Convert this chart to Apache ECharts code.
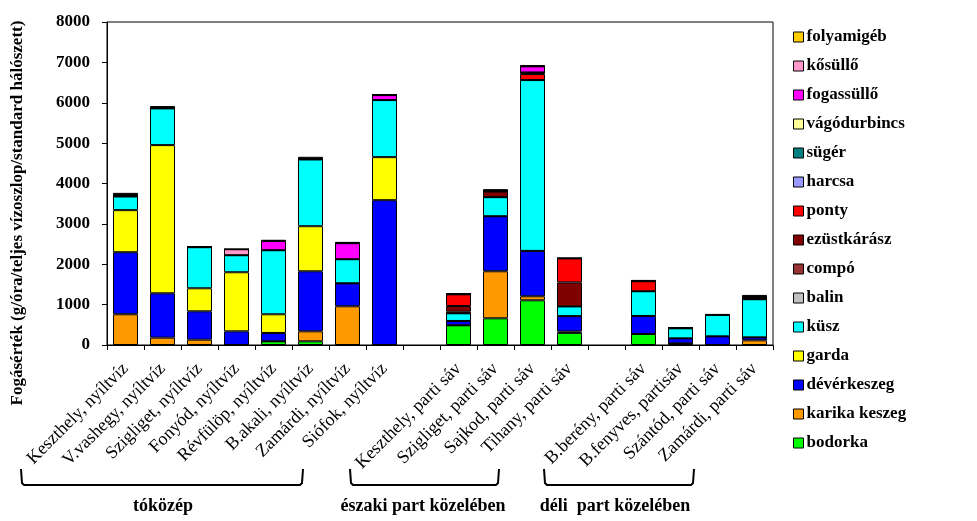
<!DOCTYPE html>
<html><head><meta charset="utf-8">
<script src="https://cdn.jsdelivr.net/npm/echarts@6/dist/echarts.min.js"></script>
<style>html,body{margin:0;padding:0;background:#fff}#c{width:977px;height:521px}</style>
</head><body><div id="c"></div>
<script>
const categories = ["Keszthely, nyíltvíz","V.vashegy, nyíltvíz","Szigliget, nyíltvíz","Fonyód, nyíltvíz","Révfülöp, nyíltvíz","B.akali, nyíltvíz","Zamárdi, nyíltvíz","Siófok, nyíltvíz","","Keszthely, parti sáv","Szigliget, parti sáv","Sajkod, parti sáv","Tihany, parti sáv","","B.berény, parti sáv","B.fenyves, partisáv","Szántód, parti sáv","Zamárdi, parti sáv"];
const bodorka      = [0,0,0,0,91,91,0,0,null,488,661,1107,300,null,273,41,0,0];
const karikaKeszeg = [761,182,132,0,0,248,959,0,null,0,1165,100,35,null,0,0,0,116];
const devierkeszeg = [1537,1099,703,339,207,1487,570,3587,null,107,1364,1124,380,null,446,124,215,74];
const garda        = [1042,3670,570,1463,463,1116,0,1066,null,0,0,0,0,null,0,0,0,0];
const kusz         = [338,909,1017,421,1586,1653,595,1413,null,190,471,4231,240,null,612,248,529,943];
const balin        = [0,0,0,0,0,0,0,0,null,0,0,0,0,null,0,0,0,0];
const compo        = [0,0,0,0,0,0,0,0,null,40,0,0,0,null,0,0,0,0];
const ezustkarasz  = [0,0,0,0,0,0,0,0,null,140,141,0,595,null,0,0,0,0];
const ponty        = [0,0,0,0,0,0,0,0,null,289,0,149,595,null,248,0,0,0];
const harcsa       = [0,0,0,0,0,0,0,0,null,0,0,40,0,null,0,0,0,0];
const suger        = [0,0,0,0,0,0,0,0,null,0,0,0,0,null,0,0,0,0];
const vagodurbincs = [0,0,0,0,0,0,0,0,null,0,0,0,0,null,0,0,0,0];
const fogassullo   = [0,0,0,0,232,0,397,124,null,0,0,150,0,null,0,0,0,0];
const kosullo      = [0,0,0,149,0,0,0,0,null,0,0,0,0,null,0,0,0,0];
const folyamigeb   = [0,0,0,0,0,0,0,0,null,0,0,0,0,null,0,0,0,0];
const egyeb        = [90,58,24,0,24,66,33,25,null,33,58,33,0,null,33,33,25,107];
const yTicks = [0,1000,2000,3000,4000,5000,6000,7000,8000];

const seriesDefs = [
  ["bodorka", bodorka, "#00FF00"],
  ["karika keszeg", karikaKeszeg, "#FF9900"],
  ["dévérkeszeg", devierkeszeg, "#0000FF"],
  ["garda", garda, "#FFFF00"],
  ["küsz", kusz, "#00FFFF"],
  ["balin", balin, "#C0C0C0"],
  ["compó", compo, "#993333"],
  ["ezüstkárász", ezustkarasz, "#800000"],
  ["ponty", ponty, "#FF0000"],
  ["harcsa", harcsa, "#9999FF"],
  ["sügér", suger, "#008080"],
  ["vágódurbincs", vagodurbincs, "#FFFF99"],
  ["fogassüllő", fogassullo, "#FF00FF"],
  ["kősüllő", kosullo, "#FF99CC"],
  ["folyamigéb", folyamigeb, "#FFCC00"],
  ["egyéb", egyeb, "#000000"]
];
const FONT = '"Liberation Serif","Times New Roman",serif';
const chart = echarts.init(document.getElementById('c'), null, {renderer:'canvas'});
const series = seriesDefs.map(([n,d,c]) => ({
  name: n, type: 'bar', stack: 'a', data: d, barWidth: 25,
  itemStyle: {color: c, borderColor: '#000', borderWidth: 1},
  emphasis: {disabled: true}
}));
const legendNames = seriesDefs.slice(0,15).map(s => s[0]).reverse();
function bracket(x1,x2){
  return {type:'polyline', shape:{points:[[x1,469],[x1+1,483],[x1+3,485],[x2-3,485],[x2-1,483],[x2,469]]}, style:{stroke:'#000', lineWidth:2, fill:null}};
}
chart.setOption({
  animation: false,
  grid: {left: 107, top: 22, right: 204, bottom: 176, show: true, borderColor: '#000', borderWidth: 1},
  legend: {
    data: legendNames, orient: 'vertical', left: 793, top: 28, padding: 0,
    itemWidth: 10, itemHeight: 10, itemGap: 11, icon: 'rect',
    itemStyle: {borderColor: '#000', borderWidth: 1},
    textStyle: {fontFamily: FONT, fontWeight: 'bold', fontSize: 17, color: '#000', lineHeight: 18, padding: [0,0,0,-2]},
    selectedMode: false
  },
  xAxis: {
    type: 'category', data: categories,
    axisLine: {lineStyle: {color: '#000', width: 1}},
    axisTick: {show: true, length: 5, lineStyle: {color: '#000'}},
    axisLabel: {interval: 0, rotate: 45, fontFamily: FONT, fontSize: 18, color: '#000', margin: 21}
  },
  yAxis: {
    type: 'value', min: 0, max: 8000, interval: 1000,
    splitLine: {show: false},
    axisLine: {show: true, lineStyle: {color: '#000', width: 1}},
    axisTick: {show: true, length: 5, lineStyle: {color: '#000'}},
    axisLabel: {fontFamily: FONT, fontWeight: 'bold', fontSize: 17, color: '#000', margin: 17,
      formatter: v => yTicks.includes(v) ? String(v) : ''}
  },
  graphic: [
    {type:'text', x: 18, y: 213, rotation: Math.PI/2,
      style:{text:'Fogásérték (g/óra/teljes vízoszlop/standard hálószett)', font:'bold 17px '+FONT, fill:'#000', textAlign:'center', textVerticalAlign:'middle'}},
    bracket(21,303), bracket(350,499), bracket(544,694),
    {type:'text', x: 163, y: 506, style:{text:'tóközép', font:'bold 18px '+FONT, fill:'#000', textAlign:'center', textVerticalAlign:'middle'}},
    {type:'text', x: 423, y: 506, style:{text:'északi part közelében', font:'bold 18px '+FONT, fill:'#000', textAlign:'center', textVerticalAlign:'middle'}},
    {type:'text', x: 615, y: 506, style:{text:'déli  part közelében', font:'bold 18px '+FONT, fill:'#000', textAlign:'center', textVerticalAlign:'middle'}}
  ],
  series: series
});
</script></body></html>
